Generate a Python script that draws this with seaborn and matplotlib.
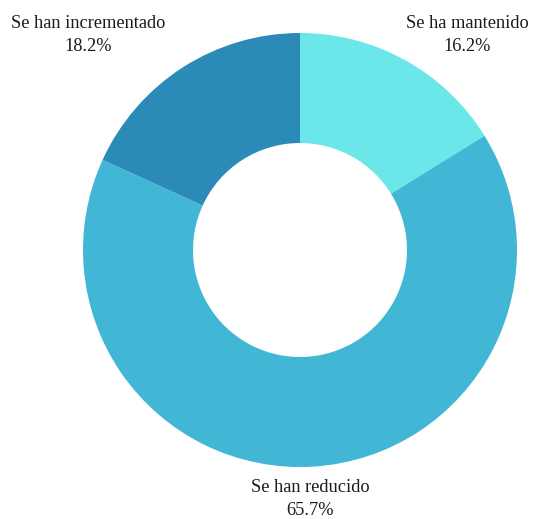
import matplotlib
matplotlib.use("Agg")
import matplotlib.pyplot as plt
import seaborn as sns

categories = ["Se ha mantenido", "Se han reducido", "Se han incrementado"]
shares = [16.2, 65.7, 18.2]
colors = ["#6BE6E9", "#41B7D5", "#2C8AB8"]

sns.set_theme(style="white")
plt.rcParams["font.family"] = ["Liberation Serif", "DejaVu Serif"]

fig = plt.figure(figsize=(5.45, 5.19), dpi=100)
ax = fig.add_axes([0, 0, 1, 1])

wedges, _ = ax.pie(
    shares,
    colors=colors,
    startangle=90,
    counterclock=False,
    radius=1.0,
    wedgeprops=dict(width=0.507, edgecolor="none", linewidth=0),
)

ax.set_xlim(-300 / 217, 245 / 217)
ax.set_ylim(-269 / 217, 250 / 217)
ax.set_aspect("equal")
ax.axis("off")

label_pos = {
    "Se ha mantenido": (0.770, 0.99),
    "Se han reducido": (0.046, -1.148),
    "Se han incrementado": (-0.977, 0.99),
}
for name, val in zip(categories, shares):
    x, y = label_pos[name]
    ax.text(x, y, f"{name}\n{val:.1f}%", ha="center", va="center",
            fontsize=13.2, color="#1a1a1a", linespacing=1.45)

fig.savefig("out.png", dpi=100, facecolor="white")
